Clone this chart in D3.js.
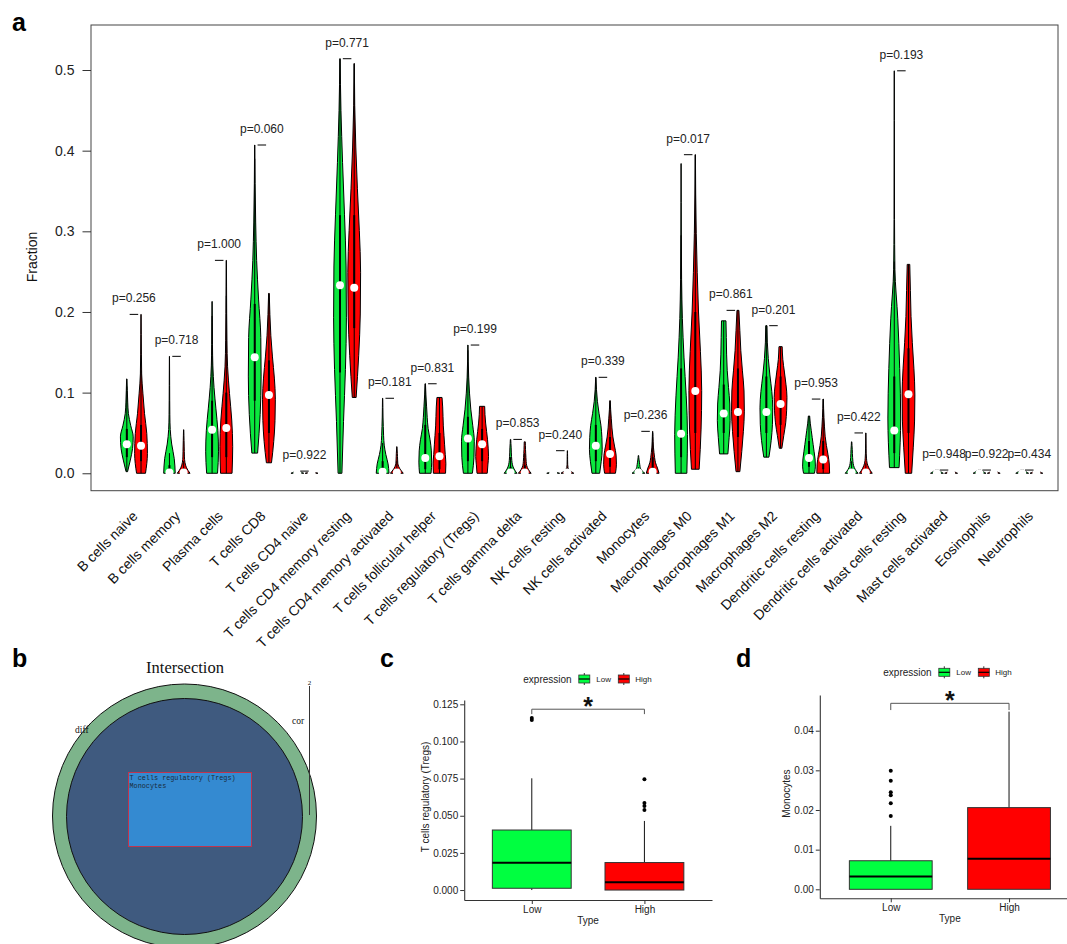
<!DOCTYPE html>
<html>
<head>
<meta charset="utf-8">
<script src="https://cdn.jsdelivr.net/npm/d3@7"></script>
<style>
  body { margin: 0; background: #fff; }
  svg { display: block; font-family: "Liberation Sans", Arial, sans-serif; }
</style>
</head>
<body>
<svg id="fig" width="1067" height="944"></svg>
<script>
// ---------- Panel a: immune cell fractions, low vs high expression ----------
const cellTypes = ["B cells naive","B cells memory","Plasma cells","T cells CD8","T cells CD4 naive",
  "T cells CD4 memory resting","T cells CD4 memory activated","T cells follicular helper",
  "T cells regulatory (Tregs)","T cells gamma delta","NK cells resting","NK cells activated",
  "Monocytes","Macrophages M0","Macrophages M1","Macrophages M2","Dendritic cells resting",
  "Dendritic cells activated","Mast cells resting","Mast cells activated","Eosinophils","Neutrophils"];

const pValues = ["0.256","0.718","1.000","0.060","0.922","0.771","0.181","0.831","0.199","0.853","0.240",
  "0.339","0.236","0.017","0.861","0.201","0.953","0.422","0.193","0.948","0.922","0.434"];

const yTicksA = [0, 0.1, 0.2, 0.3, 0.4, 0.5];

// [min, q1, median, q3, max] for the low-expression group
const lowStats = [
  [0.002,0.020,0.036,0.055,0.117],
  [0,0,0.001,0.010,0.145],
  [0,0.020,0.054,0.090,0.213],
  [0.025,0.090,0.144,0.210,0.407],
  [0,0,0,0,0.0027],
  [0,0.125,0.233,0.320,0.514],
  [0,0,0.002,0.015,0.093],
  [0,0.005,0.019,0.060,0.111],
  [0,0.015,0.043,0.070,0.159],
  [0,0,0.001,0.008,0.042],
  [0,0,0,0,0.002],
  [0,0.015,0.034,0.060,0.119],
  [0,0,0.001,0.003,0.022],
  [0,0.020,0.049,0.130,0.384],
  [0.024,0.050,0.074,0.110,0.189],
  [0.020,0.050,0.076,0.120,0.183],
  [0,0.008,0.019,0.040,0.071],
  [0,0,0.001,0.006,0.039],
  [0.007,0.025,0.053,0.120,0.499],
  [0,0,0,0,0.004],
  [0,0,0,0,0.004],
  [0,0,0,0,0.004]
];
// [min, q1, median, q3, max] for the high-expression group
const highStats = [
  [0,0.015,0.034,0.060,0.197],
  [0,0,0.001,0.006,0.054],
  [0,0.020,0.056,0.100,0.264],
  [0.013,0.050,0.097,0.140,0.223],
  [0,0,0,0,0.002],
  [0.094,0.180,0.230,0.320,0.508],
  [0,0,0.001,0.006,0.033],
  [0,0.005,0.021,0.050,0.094],
  [0,0.015,0.036,0.055,0.083],
  [0,0,0.001,0.010,0.039],
  [0,0,0.001,0.003,0.028],
  [0,0.008,0.024,0.045,0.090],
  [0,0,0.002,0.020,0.052],
  [0.005,0.050,0.102,0.200,0.395],
  [0.002,0.045,0.076,0.130,0.202],
  [0.031,0.060,0.086,0.120,0.157],
  [0,0.005,0.017,0.040,0.092],
  [0,0,0.001,0.005,0.050],
  [0,0.050,0.098,0.155,0.259],
  [0,0,0,0,0.003],
  [0,0,0,0,0.003],
  [0,0,0,0,0.003]
];
// relative kernel density, sampled at 9 equal steps from min to max
const lowDensity = [
  [0.12,0.55,0.9,1.0,0.6,0.25,0.14,0.08,0.03],
  [0.9,0.75,0.35,0.12,0.06,0.04,0.03,0.02,0.01],
  [0.85,1.0,0.9,0.6,0.3,0.12,0.06,0.04,0.02],
  [0.45,0.85,1.0,0.95,0.6,0.3,0.15,0.06,0.02],
  [1.0,0.9,0.8,0.7,0.6,0.5,0.4,0.3,0.2],
  [0.3,0.55,0.85,1.0,0.95,0.7,0.4,0.15,0.02],
  [1.0,0.85,0.5,0.25,0.15,0.1,0.06,0.04,0.02],
  [0.9,1.0,0.95,0.75,0.45,0.3,0.2,0.1,0.03],
  [0.7,0.95,1.0,0.75,0.45,0.25,0.12,0.05,0.02],
  [1.0,0.55,0.3,0.2,0.15,0.12,0.1,0.06,0.03],
  [1.0,0.9,0.8,0.7,0.6,0.5,0.4,0.3,0.2],
  [0.6,0.85,1.0,0.95,0.8,0.5,0.25,0.1,0.02],
  [1.0,0.6,0.35,0.25,0.2,0.15,0.1,0.06,0.03],
  [0.9,1.0,0.8,0.45,0.2,0.08,0.04,0.02,0.01],
  [0.65,0.85,1.0,0.95,0.75,0.55,0.45,0.4,0.35],
  [0.4,0.75,0.95,1.0,0.85,0.55,0.3,0.15,0.1],
  [0.85,1.0,0.95,0.8,0.65,0.5,0.35,0.2,0.1],
  [1.0,0.55,0.3,0.2,0.15,0.12,0.1,0.06,0.03],
  [0.75,1.0,0.85,0.55,0.1,0.04,0.03,0.02,0.01],
  [1.0,0.9,0.8,0.7,0.6,0.5,0.4,0.3,0.2],
  [1.0,0.9,0.8,0.7,0.6,0.5,0.4,0.3,0.2],
  [1.0,0.9,0.8,0.7,0.6,0.5,0.4,0.3,0.2]
];
const highDensity = [
  [0.7,1.0,0.9,0.55,0.3,0.1,0.06,0.04,0.02],
  [1.0,0.45,0.2,0.12,0.1,0.08,0.06,0.04,0.02],
  [0.9,1.0,0.85,0.5,0.2,0.1,0.06,0.04,0.02],
  [0.4,0.75,0.95,1.0,0.85,0.55,0.3,0.15,0.05],
  [1.0,0.9,0.8,0.7,0.6,0.5,0.4,0.3,0.2],
  [0.3,0.7,0.95,1.0,0.8,0.5,0.25,0.08,0.02],
  [1.0,0.6,0.3,0.15,0.12,0.1,0.08,0.05,0.02],
  [0.95,1.0,0.9,0.8,0.7,0.6,0.55,0.5,0.4],
  [0.8,0.9,1.0,0.95,0.85,0.7,0.55,0.45,0.4],
  [1.0,0.55,0.3,0.22,0.18,0.15,0.12,0.1,0.08],
  [1.0,0.4,0.1,0.05,0.04,0.03,0.03,0.02,0.02],
  [0.85,1.0,0.95,0.7,0.45,0.3,0.2,0.1,0.03],
  [1.0,0.75,0.45,0.3,0.2,0.12,0.08,0.05,0.02],
  [0.6,0.9,1.0,0.8,0.5,0.3,0.15,0.06,0.02],
  [0.3,0.6,0.85,1.0,0.95,0.7,0.45,0.3,0.15],
  [0.2,0.5,0.8,0.95,1.0,0.85,0.6,0.35,0.25],
  [1.0,0.95,0.75,0.5,0.3,0.2,0.12,0.06,0.03],
  [1.0,0.5,0.2,0.1,0.06,0.05,0.04,0.03,0.02],
  [0.5,0.75,0.95,1.0,0.85,0.6,0.4,0.3,0.2],
  [1.0,0.9,0.8,0.7,0.6,0.5,0.4,0.3,0.2],
  [1.0,0.9,0.8,0.7,0.6,0.5,0.4,0.3,0.2],
  [1.0,0.9,0.8,0.7,0.6,0.5,0.4,0.3,0.2]
];

// ---------- Panel b: overlap of the two cell sets ----------
const vennSets = ["diff", "cor"];
const sharedCells = ["T cells regulatory (Tregs)", "Monocytes"];

// ---------- Panels c, d: box plots by expression group ----------
const groups = ["Low", "High"];
const groupColors = ["#00FF40", "#FF0000"];
// [lower whisker, q1, median, q3, upper whisker]
const tregBox = [[0, 0.0012, 0.0184, 0.0404, 0.0752], [0, 0, 0.0053, 0.0185, 0.0465]];
const tregOutliers = [[0.1145, 0.1158], [0.0746, 0.0585, 0.0566, 0.0538]];
const tregTicks = [0, 0.025, 0.05, 0.075, 0.1, 0.125];
const monoBox = [[0, 0, 0.0032, 0.0072, 0.016], [0, 0, 0.0077, 0.0206, 0.0448]];
const monoOutliers = [[0.0185, 0.0217, 0.0237, 0.0245, 0.0274, 0.0299], []];
const monoTicks = [0, 0.01, 0.02, 0.03, 0.04];

const svg = d3.select("#fig");
const violinGreen = "#0BE83E";
const violinRed = "#FF0000";

// ===== Panel a =====
const xA = d3.scaleLinear().domain([-2.52, 65.52]).range([91, 1058]);
const yA = d3.scaleLinear().domain([-0.0216, 0.5558]).range([490.7, 25]);
const gA = svg.append("g");

gA.append("rect").attr("x", 91).attr("y", 25).attr("width", 967).attr("height", 465.7)
  .attr("fill", "none").attr("stroke", "#444").attr("stroke-width", 1);

const yAxisA = gA.append("g").attr("transform", "translate(91,0)")
  .call(d3.axisLeft(yA).tickValues(yTicksA).tickFormat(d3.format(".1f")).tickSize(8.5).tickPadding(8));
yAxisA.select(".domain").remove();
yAxisA.selectAll("line").attr("stroke", "#333");
yAxisA.selectAll("text").attr("font-size", 14).attr("fill", "#222")
  .attr("font-family", "Liberation Sans, Arial, sans-serif");

gA.append("text").attr("transform", "translate(37,257) rotate(-90)")
  .attr("text-anchor", "middle").attr("font-size", 14).attr("fill", "#111").text("Fraction");

const halfWidth = xA(0.45) - xA(0);
const violinArea = d3.area().curve(d3.curveMonotoneY);

function drawViolin(cx, stats, dens, fill) {
  const [mn, q1, md, q3, mx] = stats;
  const n = dens.length - 1;
  const pts = dens.map((w, k) => ({ v: mn + (mx - mn) * k / n, w }));
  violinArea.y(d => yA(d.v)).x0(d => cx - d.w * halfWidth).x1(d => cx + d.w * halfWidth);
  gA.append("path").attr("d", violinArea(pts)).attr("fill", fill)
    .attr("stroke", "#000").attr("stroke-width", 1);
  const iqr = q3 - q1;
  const hi = Math.min(mx, q3 + 1.5 * iqr), lo = Math.max(mn, q1 - 1.5 * iqr);
  gA.append("line").attr("x1", cx).attr("x2", cx).attr("y1", yA(lo)).attr("y2", yA(hi))
    .attr("stroke", "#000").attr("stroke-width", 1);
  gA.append("rect").attr("x", cx - 1).attr("width", 2)
    .attr("y", yA(q3)).attr("height", Math.max(0.5, yA(q1) - yA(q3))).attr("fill", "#000");
  gA.append("circle").attr("cx", cx).attr("cy", yA(md)).attr("r", 4).attr("fill", "#fff");
}

cellTypes.forEach((name, i) => {
  const xl = xA(3 * i), xh = xA(3 * i + 1);
  drawViolin(xl, lowStats[i], lowDensity[i], violinGreen);
  drawViolin(xh, highStats[i], highDensity[i], violinRed);
  const mx = Math.max(lowStats[i][4], highStats[i][4]);
  gA.append("line").attr("x1", xA(3 * i + 0.2)).attr("x2", xA(3 * i + 0.8))
    .attr("y1", yA(mx)).attr("y2", yA(mx)).attr("stroke", "#000").attr("stroke-width", 1);
  gA.append("text").attr("x", xA(3 * i + 0.5)).attr("y", yA(mx + 0.02))
    .attr("text-anchor", "middle").attr("dominant-baseline", "central")
    .attr("font-size", 12).attr("fill", "#222").text("p=" + pValues[i]);
  gA.append("text").attr("transform", `translate(${xh - 2.5},517) rotate(-45)`)
    .attr("text-anchor", "end").attr("font-size", 14).attr("fill", "#111").text(name);
});

// panel letters
const letters = [["a", 12, 31], ["b", 12, 667], ["c", 380, 667], ["d", 736, 667]];
svg.selectAll("text.letter").data(letters).join("text").attr("class", "letter")
  .attr("x", d => d[1]).attr("y", d => d[2]).attr("font-size", 25).attr("font-weight", "bold")
  .attr("font-family", "Liberation Sans, Arial, sans-serif").attr("fill", "#000").text(d => d[0]);

// ===== Panel b =====
const gB = svg.append("g");
gB.append("text").attr("x", 185).attr("y", 673).attr("text-anchor", "middle")
  .attr("font-family", "Liberation Serif, Times New Roman, serif").attr("font-size", 16.5)
  .attr("fill", "#111").text("Intersection");
gB.append("circle").attr("cx", 184.5).attr("cy", 816).attr("r", 132)
  .attr("fill", "#7DB48B").attr("stroke", "#111").attr("stroke-width", 1);
gB.append("circle").attr("cx", 184.5).attr("cy", 816.5).attr("r", 118)
  .attr("fill", "#3F5A7F").attr("stroke", "#111").attr("stroke-width", 1);
gB.append("rect").attr("x", 128.5).attr("y", 772.5).attr("width", 123).attr("height", 74)
  .attr("fill", "#348AD1").attr("stroke", "#C0344E").attr("stroke-width", 1);
gB.selectAll("text.cell").data(sharedCells).join("text").attr("class", "cell")
  .attr("x", 129.5).attr("y", (d, i) => 779.5 + i * 8.5)
  .attr("font-family", "Liberation Mono, Courier New, monospace").attr("font-size", 6.8)
  .attr("fill", "#1a2a3a").text(d => d);
gB.append("text").attr("x", 75).attr("y", 733).attr("font-family", "Liberation Serif, serif")
  .attr("font-size", 9.5).attr("fill", "#111").text(vennSets[0]);
gB.append("text").attr("x", 292).attr("y", 724).attr("font-family", "Liberation Serif, serif")
  .attr("font-size", 9.5).attr("fill", "#111").text(vennSets[1]);
gB.append("line").attr("x1", 309.5).attr("x2", 309.5).attr("y1", 686).attr("y2", 815)
  .attr("stroke", "#333").attr("stroke-width", 1);
gB.append("text").attr("x", 309.5).attr("y", 685).attr("text-anchor", "middle")
  .attr("font-family", "Liberation Serif, serif").attr("font-size", 7).attr("fill", "#111")
  .text(sharedCells.length);

// ===== Panels c and d =====
function boxPanel(o) {
  const g = svg.append("g");
  const y = d3.scaleLinear().domain(o.yDomain).range([o.bottom, o.top]);
  const x = d3.scalePoint().domain(groups).range([o.left, o.right]).padding(0.6);
  const bw = 0.7 * x.step();

  // whiskers, boxes, medians, outliers
  groups.forEach((grp, i) => {
    const [lo, q1, md, q3, hi] = o.box[i];
    const cx = x(grp);
    g.append("line").attr("x1", cx).attr("x2", cx).attr("y1", y(q3)).attr("y2", y(hi))
      .attr("stroke", "#111").attr("stroke-width", 1);
    g.append("line").attr("x1", cx).attr("x2", cx).attr("y1", y(lo)).attr("y2", y(q1))
      .attr("stroke", "#111").attr("stroke-width", 1);
    g.append("rect").attr("x", cx - bw / 2).attr("width", bw).attr("y", y(q3))
      .attr("height", y(q1) - y(q3)).attr("fill", groupColors[i])
      .attr("stroke", "#333").attr("stroke-width", 1);
    g.append("line").attr("x1", cx - bw / 2).attr("x2", cx + bw / 2).attr("y1", y(md)).attr("y2", y(md))
      .attr("stroke", "#000").attr("stroke-width", 2);
    g.selectAll(null).data(o.outliers[i]).join("circle")
      .attr("cx", cx).attr("cy", d => y(d)).attr("r", 2).attr("fill", "#000");
  });

  // axes
  const ya = g.append("g").attr("transform", `translate(${o.left},0)`)
    .call(d3.axisLeft(y).tickValues(o.ticks).tickFormat(d3.format(o.fmt)).tickSize(4).tickSizeOuter(0).tickPadding(2));
  const xa = g.append("g").attr("transform", `translate(0,${o.bottom})`)
    .call(d3.axisBottom(x).tickSize(4).tickSizeOuter(0).tickPadding(2));
  [ya, xa].forEach(a => {
    a.select(".domain").attr("stroke", "#333").attr("stroke-width", 1.1);
    a.selectAll("line").attr("stroke", "#333");
    a.selectAll("text").attr("font-size", o.fs).attr("fill", "#222")
      .attr("font-family", "Liberation Sans, Arial, sans-serif");
  });
  g.append("text").attr("x", (x("Low") + x("High")) / 2)
    .attr("y", o.bottom + 24).attr("text-anchor", "middle").attr("font-size", o.fs).attr("fill", "#222").text("Type");
  g.append("text").attr("transform", `translate(${o.titleX},${(o.top + o.bottom) / 2 - 3}) rotate(-90)`)
    .attr("text-anchor", "middle").attr("font-size", o.fs).attr("fill", "#222").text(o.title);

  // significance bracket
  const xl = x("Low"), xh = x("High");
  g.append("path")
    .attr("d", `M${xl},${y(o.bracket[1])}V${y(o.bracket[0])}H${xh}V${y(o.bracket[1])}`)
    .attr("fill", "none").attr("stroke", "#555").attr("stroke-width", 1);
  g.append("text").attr("x", (xl + xh) / 2).attr("y", y(o.bracket[0]) + 6)
    .attr("text-anchor", "middle").attr("font-size", 25).attr("font-weight", "bold")
    .attr("fill", "#111").text("*");

  // legend
  const lg = g.append("g").attr("transform", `translate(${o.legend[0]},${o.legend[1]})`);
  lg.append("text").attr("x", 0).attr("y", 0).attr("dominant-baseline", "central")
    .attr("font-size", 10).attr("fill", "#222").text("expression");
  const keyX = [55, 94.5], labX = [73, 112];
  groups.forEach((grp, i) => {
    const k = lg.append("g").attr("transform", `translate(${keyX[i]},0)`);
    k.append("line").attr("x1", 6).attr("x2", 6).attr("y1", -6).attr("y2", 6).attr("stroke", "#333");
    k.append("rect").attr("x", 0.5).attr("y", -4).attr("width", 11).attr("height", 8)
      .attr("fill", groupColors[i]).attr("stroke", "#333").attr("stroke-width", 0.8);
    k.append("line").attr("x1", 0.5).attr("x2", 11.5).attr("y1", 0).attr("y2", 0).attr("stroke", "#000").attr("stroke-width", 1.2);
    lg.append("text").attr("x", labX[i]).attr("y", 0).attr("dominant-baseline", "central")
      .attr("font-size", 8).attr("fill", "#222").text(grp);
  });
}

boxPanel({
  left: 464.2, right: 712, top: 700, bottom: 900,
  yDomain: [-0.0067, 0.1279], ticks: tregTicks, fmt: ".3f",
  box: tregBox, outliers: tregOutliers, title: "T cells regulatory (Tregs)", titleX: 429,
  bracket: [0.1217, 0.1184], legend: [523.3, 679], fs: 10
});
boxPanel({
  left: 819.8, right: 1080, top: 695, bottom: 898.3,
  yDomain: [-0.00227, 0.049], ticks: monoTicks, fmt: ".2f",
  box: monoBox, outliers: monoOutliers, title: "Monocytes", titleX: 790,
  bracket: [0.0469, 0.0452], legend: [883.3, 672.3], fs: 10
});
</script>
</body>
</html>
